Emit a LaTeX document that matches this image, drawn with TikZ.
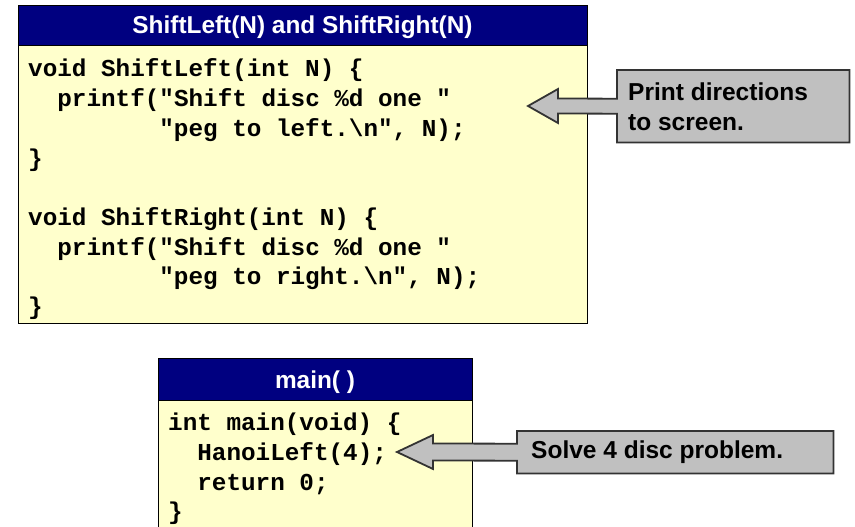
\documentclass[tikz,border=0pt]{standalone}
\usepackage{fontspec}
\setmainfont{Liberation Sans}
\newfontfamily\codefont{Liberation Mono}
\usetikzlibrary{calc}
\definecolor{hdrblue}{HTML}{000080}
\definecolor{codebg}{HTML}{FFFFCC}
\definecolor{callgray}{HTML}{C0C0C0}
\definecolor{callline}{HTML}{333333}
\begin{document}
\begin{tikzpicture}[x=1pt,y=-1pt,
  panel/.style={draw=black, line width=1.2pt, inner sep=0pt, anchor=north west},
  hdrbox/.style={panel, fill=hdrblue},
  bodybox/.style={panel, fill=codebg},
  hdrtext/.style={anchor=base, inner sep=0pt, text=white, font=\bfseries\fontsize{24.4}{29}\selectfont},
  codeline/.style={anchor=base west, inner sep=0pt, font=\codefont\bfseries\fontsize{24.3}{29.7}\selectfont},
  callbox/.style={inner sep=0pt, anchor=north west},
  callshape/.style={draw=callline, line width=1.8pt, fill=callgray, line join=miter},
  calltext/.style={anchor=base west, inner sep=0pt, font=\bfseries\fontsize{24.5}{31}\selectfont}]
\useasboundingbox (0,0) rectangle (855,527);
\clip (0,0) rectangle (855,527);
% top panel
\node[bodybox, minimum width=569pt, minimum height=278pt] (body1) at (18,45) {};
\node[hdrbox, minimum width=569pt, minimum height=40pt] (hdr1) at (18,5) {};
\node[hdrtext] (h1) at (302.5,33.5) {ShiftLeft(N) and ShiftRight(N)};
\node[codeline] (a1) at (28,77) {void ShiftLeft(int N) \{};
\node[codeline] (a2) at (57.2,106.7) {printf("Shift disc \%d one "};
\node[codeline] (a3) at (159.2,136.4) {"peg to left.\textbackslash n", N);};
\node[codeline] (a4) at (28,166) {\}};
\node[codeline] (a5) at (28,225.5) {void ShiftRight(int N) \{};
\node[codeline] (a6) at (57.2,255.2) {printf("Shift disc \%d one "};
\node[codeline] (a7) at (159.2,284.9) {"peg to right.\textbackslash n", N);};
\node[codeline] (a8) at (28,314.6) {\}};
% bottom panel
\node[bodybox, minimum width=314pt, minimum height=140pt] (body2) at (158,400) {};
\node[hdrbox, minimum width=314pt, minimum height=42pt] (hdr2) at (158,358) {};
\node[hdrtext] (h2) at (315,388.5) {main( )};
\node[codeline] (b1) at (168,430.7) {int main(void) \{};
\node[codeline] (b2) at (197.2,460.4) {HanoiLeft(4);};
\node[codeline] (b3) at (197.2,490.1) {return 0;};
\node[codeline] (b4) at (168,519.8) {\}};
% callout 1
\node[callbox, minimum width=232pt, minimum height=72pt] (cb1) at (617,70) {};
\coordinate (tip1) at (528,106);
\draw[callshape] (cb1.north east) -- (cb1.north west) -- ($(cb1.west)+(0,-7.5)$)
  -- ($(tip1)+(30,-7.5)$) -- ($(tip1)+(30,-17)$) -- (tip1) -- ($(tip1)+(30,17)$)
  -- ($(tip1)+(30,7.5)$) -- ($(cb1.west)+(0,7.5)$) -- (cb1.south west) -- (cb1.south east) -- cycle;
\node[calltext] (c1) at (628,100) {Print directions};
\node[calltext] (c2) at (628,131) {to screen.};
% callout 2
\node[callbox, minimum width=316pt, minimum height=42pt] (cb2) at (517,431) {};
\coordinate (tip2) at (397,452);
\draw[callshape] (cb2.north east) -- (cb2.north west) -- ($(cb2.west)+(0,-8.5)$)
  -- ($(tip2)+(36,-8.5)$) -- ($(tip2)+(36,-17)$) -- (tip2) -- ($(tip2)+(36,17)$)
  -- ($(tip2)+(36,8.5)$) -- ($(cb2.west)+(0,8.5)$) -- (cb2.south west) -- (cb2.south east) -- cycle;
\node[calltext] (d1) at (531,458.5) {Solve 4 disc problem.};
\end{tikzpicture}
\end{document}
